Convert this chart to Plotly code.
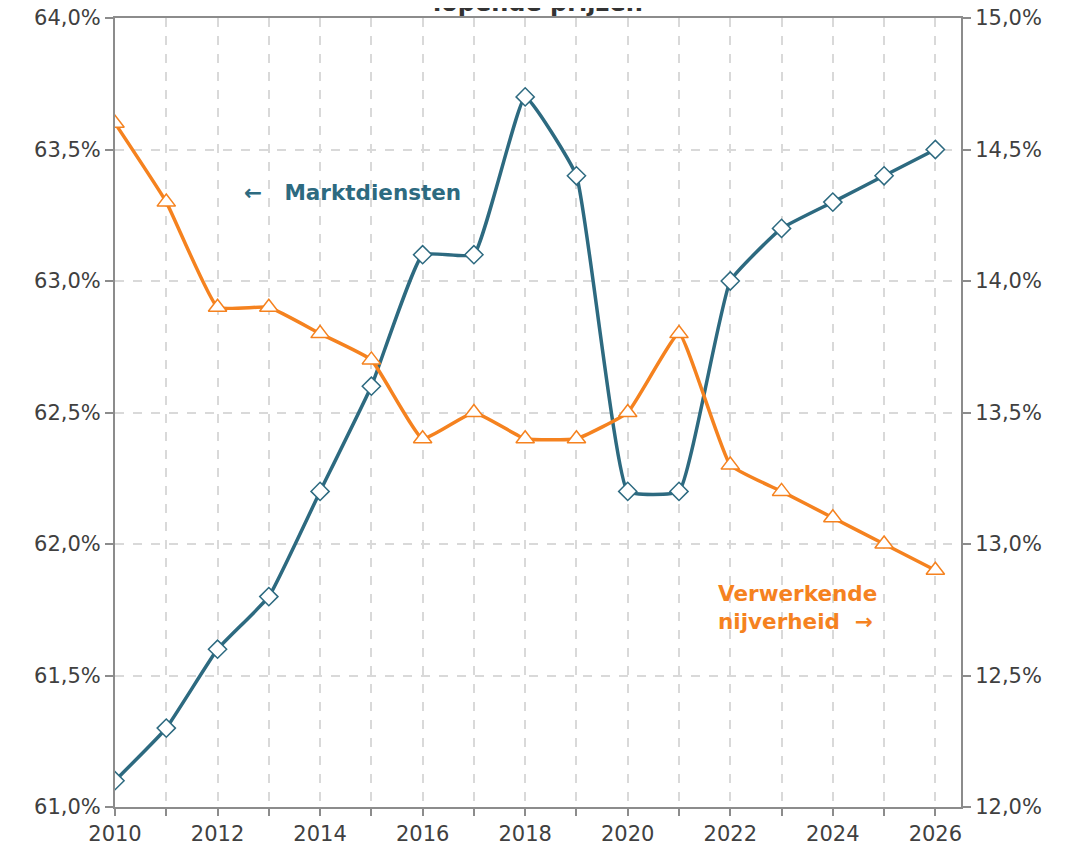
import plotly.graph_objects as go

years = list(range(2010, 2027))
marktdiensten = [61.1, 61.3, 61.6, 61.8, 62.2, 62.6, 63.1, 63.1, 63.7, 63.4,
                 62.2, 62.2, 63.0, 63.2, 63.3, 63.4, 63.5]
verwerkende = [14.6, 14.3, 13.9, 13.9, 13.8, 13.7, 13.4, 13.5, 13.4, 13.4,
               13.5, 13.8, 13.3, 13.2, 13.1, 13.0, 12.9]
left_ticks = [61.0, 61.5, 62.0, 62.5, 63.0, 63.5, 64.0]
right_ticks = [12.0, 12.5, 13.0, 13.5, 14.0, 14.5, 15.0]

TEAL = "#2d6a80"
ORANGE = "#f5821f"
AXIS = "#8c8c8c"
GRID = "#d9d9d9"
TXT = "#404040"
FONT = "DejaVu Sans"

def fmt(v):
    return f"{v:.1f}".replace(".", ",") + "%"

fig = go.Figure()
fig.add_trace(go.Scatter(
    x=years, y=marktdiensten, mode="lines+markers", name="Marktdiensten",
    line=dict(color=TEAL, width=3.5, shape="spline", smoothing=0.35),
    marker=dict(symbol="diamond", size=14, color="white",
                line=dict(color=TEAL, width=1.5)),
    yaxis="y"))
fig.add_trace(go.Scatter(
    x=years, y=verwerkende, mode="lines+markers", name="Verwerkende nijverheid",
    line=dict(color=ORANGE, width=3.5, shape="spline", smoothing=0.35),
    marker=dict(symbol="triangle-up", size=16, color="white",
                line=dict(color=ORANGE, width=1.5)),
    yaxis="y2"))

fig.update_layout(
    width=1068, height=838,
    margin=dict(l=107, r=115, t=10, b=39, autoexpand=False),
    paper_bgcolor="white", plot_bgcolor="white",
    showlegend=False,
    font=dict(family=FONT, size=21, color=TXT),
    xaxis=dict(
        range=[2010, 2026.5], tickmode="linear", tick0=2010, dtick=2,
        automargin=False, ticklabeloverflow="allow",
        showline=True, linecolor=AXIS, linewidth=2, mirror=True,
        ticks="outside", ticklen=7, tickcolor=AXIS, tickwidth=2,
        showgrid=True, gridcolor=GRID, griddash="dash", gridwidth=1.5,
        minor=dict(tickmode="linear", tick0=2010, dtick=1, ticks="outside",
                   ticklen=7, tickcolor=AXIS, tickwidth=2,
                   showgrid=True, gridcolor=GRID, griddash="dash", gridwidth=1.5),
        tickfont=dict(size=21, color=TXT), zeroline=False,
    ),
    yaxis=dict(
        range=[61, 64], tickvals=left_ticks, ticktext=[fmt(v) for v in left_ticks],
        automargin=False, ticklabeloverflow="allow",
        showline=True, linecolor=AXIS, linewidth=2,
        ticks="outside", ticklen=8, tickcolor=AXIS, tickwidth=2,
        showgrid=True, gridcolor=GRID, griddash="dash", gridwidth=1.5,
        tickfont=dict(size=21, color=TXT), zeroline=False,
    ),
    yaxis2=dict(
        range=[12, 15], tickvals=right_ticks, ticktext=[fmt(v) for v in right_ticks],
        overlaying="y", side="right", automargin=False, ticklabeloverflow="allow",
        showline=True, linecolor=AXIS, linewidth=2,
        ticks="outside", ticklen=8, tickcolor=AXIS, tickwidth=2,
        showgrid=False, tickfont=dict(size=21, color=TXT), zeroline=False,
    ),
    annotations=[
        dict(text="<b>lopende prijzen</b>", xref="paper", yref="paper",
             x=0.5, y=1, xanchor="center", yanchor="middle", yshift=15,
             showarrow=False, font=dict(size=24, color="#333333", family=FONT)),
        dict(text="<b>←   Marktdiensten</b>", xref="x", yref="y",
             x=2012.47, y=63.335, xanchor="left", yanchor="middle",
             showarrow=False, font=dict(size=21.5, color=TEAL, family=FONT)),
        dict(text="<b>Verwerkende<br>nijverheid  →</b>", xref="x", yref="y",
             x=2021.72, y=61.76, xanchor="left", yanchor="middle", align="left",
             showarrow=False, font=dict(size=21.5, color=ORANGE, family=FONT)),
    ],
)

fig.write_html("out.html")
